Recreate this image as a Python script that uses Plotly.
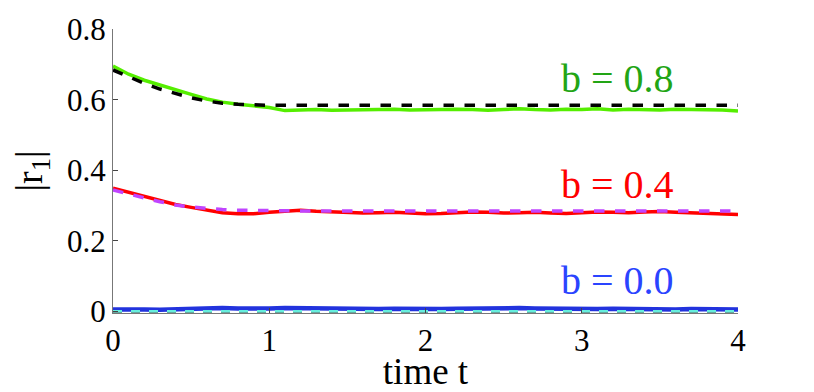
import plotly.graph_objects as go

# time grid (step 0.1 from 0 to 4)
t = [0.0, 0.1, 0.2, 0.3, 0.4, 0.5, 0.6, 0.7, 0.8, 0.9,
     1.0, 1.1, 1.2, 1.3, 1.4, 1.5, 1.6, 1.7, 1.8, 1.9,
     2.0, 2.1, 2.2, 2.3, 2.4, 2.5, 2.6, 2.7, 2.8, 2.9,
     3.0, 3.1, 3.2, 3.3, 3.4, 3.5, 3.6, 3.7, 3.8, 3.9, 4.0]

# b = 0.8 simulation (solid) and theory (dashed)
sim_08 = [0.695, 0.672, 0.655, 0.641, 0.628, 0.615, 0.602, 0.593, 0.587, 0.582,
          0.578, 0.569, 0.571, 0.572, 0.570, 0.571, 0.573, 0.572, 0.573, 0.571,
          0.572, 0.571, 0.573, 0.572, 0.570, 0.572, 0.574, 0.572, 0.571, 0.573,
          0.572, 0.574, 0.571, 0.573, 0.572, 0.571, 0.573, 0.572, 0.573, 0.571, 0.568]
th_08 = [0.684, 0.664, 0.646, 0.630, 0.617, 0.605, 0.596, 0.590, 0.587, 0.585,
         0.584, 0.584, 0.584, 0.584, 0.584, 0.584, 0.584, 0.584, 0.584, 0.584,
         0.584, 0.584, 0.584, 0.584, 0.584, 0.584, 0.584, 0.584, 0.584, 0.584,
         0.584, 0.584, 0.584, 0.584, 0.584, 0.584, 0.584, 0.584, 0.584, 0.584, 0.584]

# b = 0.4
sim_04 = [0.349, 0.338, 0.326, 0.314, 0.303, 0.295, 0.287, 0.280, 0.277, 0.277,
          0.281, 0.285, 0.287, 0.284, 0.282, 0.281, 0.279, 0.280, 0.281, 0.279,
          0.277, 0.278, 0.280, 0.282, 0.281, 0.279, 0.280, 0.281, 0.279, 0.278,
          0.280, 0.282, 0.281, 0.280, 0.282, 0.283, 0.281, 0.280, 0.279, 0.277, 0.275]
th_04 = [0.344, 0.334, 0.322, 0.311, 0.302, 0.296, 0.292, 0.289, 0.287, 0.286,
         0.285, 0.285, 0.285, 0.285, 0.285, 0.285, 0.285, 0.285, 0.285, 0.285,
         0.285, 0.285, 0.285, 0.285, 0.285, 0.285, 0.285, 0.285, 0.285, 0.285,
         0.285, 0.285, 0.285, 0.285, 0.285, 0.285, 0.285, 0.285, 0.285, 0.285, 0.285]

# b = 0.0
sim_00 = [0.006, 0.007, 0.006, 0.005, 0.007, 0.008, 0.009, 0.010, 0.009, 0.008,
          0.009, 0.010, 0.009, 0.008, 0.007, 0.008, 0.006, 0.007, 0.008, 0.007,
          0.006, 0.007, 0.008, 0.009, 0.010, 0.011, 0.010, 0.009, 0.008, 0.007,
          0.006, 0.007, 0.008, 0.007, 0.008, 0.007, 0.006, 0.007, 0.006, 0.007, 0.006]
th_00a = [0.001] * 41
th_00b = [0.0] * 41

labels = ["b = 0.8", "b = 0.4", "b = 0.0"]
label_t = [3.23, 3.23, 3.23]
label_y = [0.659, 0.361, 0.088]
label_col = ["#22a515", "#ff0000", "#2a44ff"]

SERIF = "Liberation Serif, Times New Roman, serif"

fig = go.Figure()
fig.add_trace(go.Scatter(x=t, y=sim_08, mode="lines", line=dict(color="#55ee00", width=3.5)))
fig.add_trace(go.Scatter(x=t, y=th_08, mode="lines", line=dict(color="black", width=3.5, dash="dash")))
fig.add_trace(go.Scatter(x=t, y=sim_04, mode="lines", line=dict(color="#ff0000", width=3.5)))
fig.add_trace(go.Scatter(x=t, y=th_04, mode="lines", line=dict(color="#c044ff", width=3.5, dash="dash")))
fig.add_trace(go.Scatter(x=t, y=th_00b, mode="lines", line=dict(color="#333", width=2.5, dash="dash")))
fig.add_trace(go.Scatter(x=t, y=sim_00, mode="lines", line=dict(color="#2233dd", width=4.5)))
fig.add_trace(go.Scatter(x=t, y=th_00a, mode="lines", line=dict(color="#66eedd", width=2.5, dash="dash")))

for txt, x, y, c in zip(labels, label_t, label_y, label_col):
    fig.add_annotation(x=x, y=y, text=txt, showarrow=False,
                       font=dict(family=SERIF, size=40, color=c))

# page body has an 8px margin, so the figure is a bit smaller than the window
fig.update_layout(
    width=806, height=384,
    margin=dict(l=105, r=76, t=21, b=79),
    paper_bgcolor="white", plot_bgcolor="white",
    showlegend=False,
    font=dict(family=SERIF, size=31, color="black"),
)
fig.update_xaxes(range=[0, 4], tickvals=[0, 1, 2, 3, 4], ticks="inside", ticklen=5,
                 showline=True, linecolor="#777", linewidth=1, showgrid=False, zeroline=False,
                 automargin=False,
                 title=dict(text="time t", standoff=4), tickfont=dict(family=SERIF, size=31))
fig.update_yaxes(range=[-0.004, 0.8], tickvals=[0, 0.2, 0.4, 0.6, 0.8],
                 ticktext=["0", "0.2", "0.4", "0.6", "0.8"], ticks="inside", ticklen=5,
                 showline=True, linecolor="#777", linewidth=1, showgrid=False, zeroline=False,
                 automargin=False,
                 title=dict(text="|r<sub>1</sub>|", font=dict(family=SERIF, size=38)),
                 tickfont=dict(family=SERIF, size=31))

fig.write_html("out.html")
